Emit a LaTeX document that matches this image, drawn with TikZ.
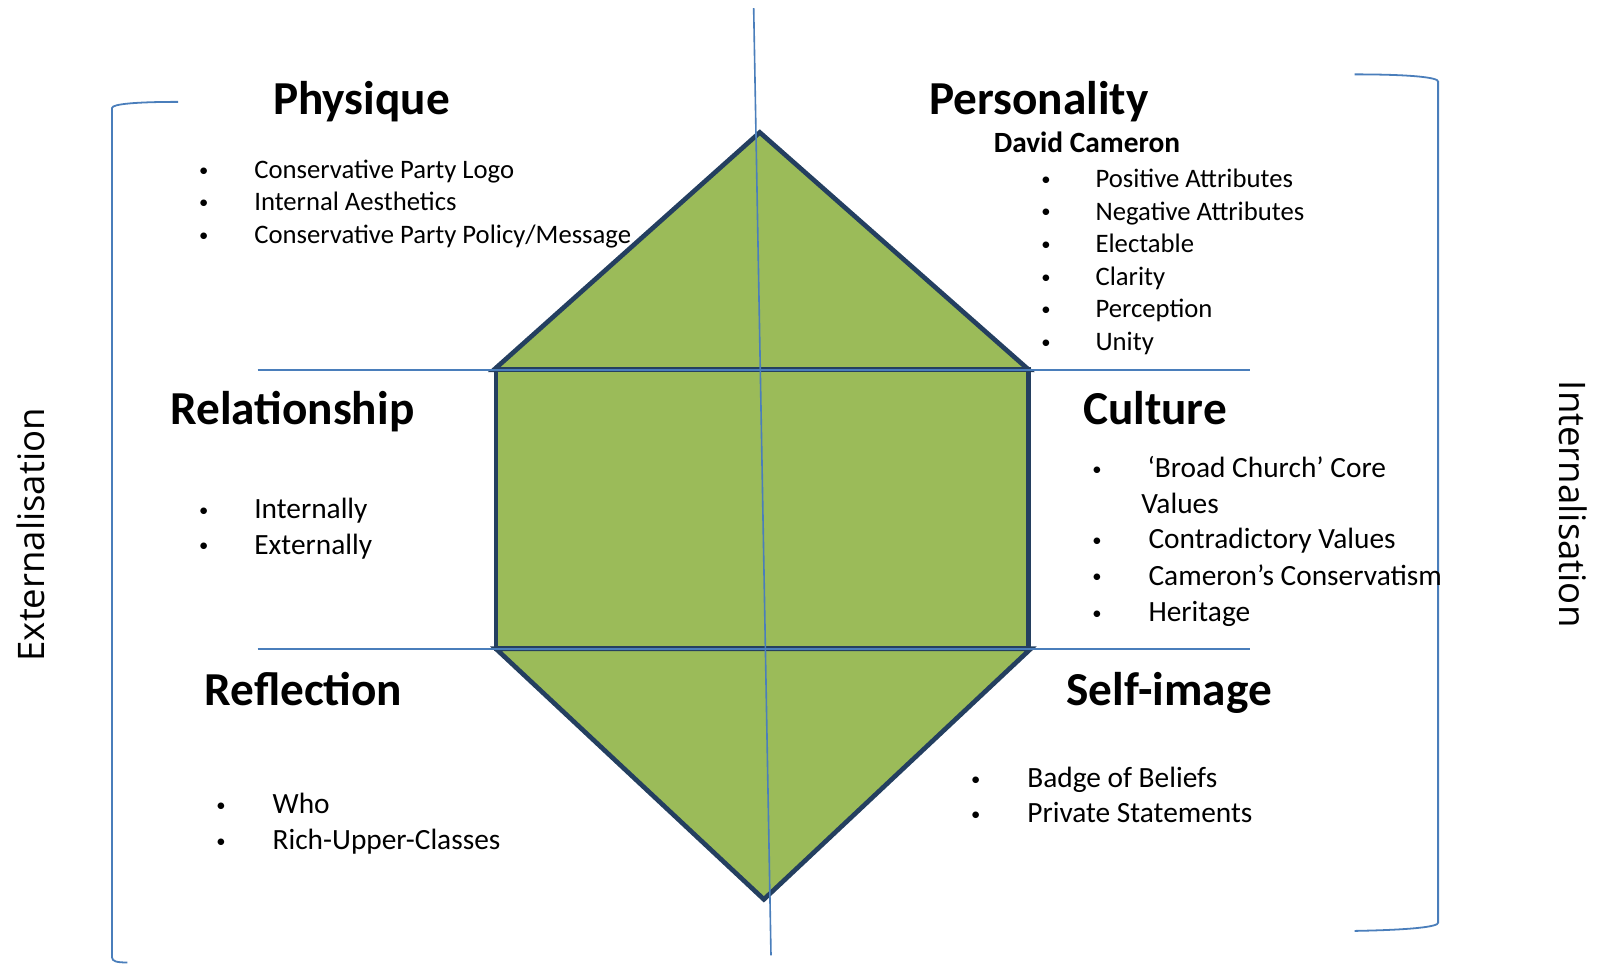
\documentclass[tikz,border=0pt]{standalone}
\usepackage{fontspec}
\setmainfont{Carlito}
\newfontfamily\sidefont{Open Sans}
\usetikzlibrary{positioning}
\definecolor{prismgreen}{HTML}{9BBB59}
\definecolor{prismedge}{HTML}{243F60}
\definecolor{axisblue}{HTML}{4A7EBB}

\begin{document}
\begin{tikzpicture}
[x=0.01cm,y=-0.01cm,
 facet/.style={fill=prismgreen,draw=prismedge,line width=1.3pt,line join=miter},
 axis/.style={draw=axisblue,line width=0.45pt},
 brace/.style={draw=axisblue,line width=0.5pt},
 heading/.style={font=\fontsize{13.2}{15}\selectfont\bfseries,anchor=base,inner sep=0pt},
 subhead/.style={font=\fontsize{8.2}{10}\selectfont\bfseries,anchor=base west,inner sep=0pt},
 item/.style={font=\fontsize{7.45}{9}\selectfont,anchor=base west,inner sep=0pt},
 wideitem/.style={item,font=\fontsize{8.2}{10}\selectfont},
 dot/.style={font=\fontsize{5.2}{6}\selectfont,anchor=base,inner sep=0pt,yshift=0.6pt},
 side/.style={font=\sidefont\fontsize{10.2}{12}\selectfont,inner sep=0pt}]

\useasboundingbox (0,0) rectangle (1568,947);

% prism
\coordinate (apex) at (746,130);
\coordinate (tl) at (485,363);
\coordinate (tr) at (1010,363);
\coordinate (ml) at (487,363);
\coordinate (bl) at (487,637);
\coordinate (br) at (1012,637);
\coordinate (foot) at (750,883);

\draw [facet] (apex) -- (tr) -- (tl) -- cycle;
\draw [facet] (ml) rectangle (1010,637);
\draw [facet] (bl) -- (br) -- (foot) -- cycle;

% axes
\coordinate (n) at (740,8);
\coordinate (s) at (757,938);
\draw [axis] (n) -- (s);
\draw [axis] (253,363) coordinate (w1) -- (1227,363) coordinate (e1);
\draw [axis] (253,637) coordinate (w2) -- (1227,637) coordinate (e2);

% brackets
\draw [brace] (175,100) .. controls (135,100) and (110,102) .. (110,106)
	-- (110,940) .. controls (110,944) and (115,945) .. (125,945);
\draw [brace] (1330,73) .. controls (1385,73) and (1412,76) .. (1412,80)
	-- (1412,906) .. controls (1412,910) and (1385,913) .. (1330,914);

\node (ext) [side,rotate=90] at (30,525) {Externalisation};
\node (int) [side,rotate=-90] at (1545,495) {Internalisation};

% physique
\node (physique) [heading] at (355,112) {Physique};
\foreach \t [count=\i] in {Conservative Party Logo,Internal Aesthetics,Conservative Party Policy/Message}
{
	\node (phy-dot\i) [dot] at (200,{175+(\i-1)*32}) {\textbullet};
	\node (phy-\i) [item] at (249,{175+(\i-1)*32}) {\t};
}

% personality
\node (personality) [heading] at (1020,112) {Personality};
\node (cameron) [subhead] at (975,150) {David Cameron};
\foreach \t [count=\i] in {Positive Attributes,Negative Attributes,Electable,Clarity,Perception,Unity}
{
	\node (per-dot\i) [dot] at (1027,{184+(\i-1)*32}) {\textbullet};
	\node (per-\i) [item] at (1075,{184+(\i-1)*32}) {\t};
}

% relationship
\node (relationship) [heading] at (287,417) {Relationship};
\foreach \t [count=\i] in {Internally,Externally}
{
	\node (rel-dot\i) [dot] at (200,{509+(\i-1)*35}) {\textbullet};
	\node (rel-\i) [wideitem] at (249,{509+(\i-1)*35}) {\t};
}

% culture
\node (culture) [heading] at (1134,417) {Culture};
\node (cul-dot1) [dot] at (1077,469) {\textbullet};
\node (cul-1) [wideitem] at (1126,469) {‘Broad Church’ Core};
\node (cul-1b) [wideitem] at (1120,504) {Values};
\foreach \t [count=\i from 2] in {Contradictory Values,Cameron’s Conservatism,Heritage}
{
	\node (cul-dot\i) [dot] at (1077,{539+(\i-2)*35.5}) {\textbullet};
	\node (cul-\i) [wideitem] at (1127,{539+(\i-2)*35.5}) {\t};
}

% reflection
\node (reflection) [heading] at (298,693) {Reflection};
\foreach \t [count=\i] in {Who,Rich-Upper-Classes}
{
	\node (ref-dot\i) [dot] at (217,{799+(\i-1)*35}) {\textbullet};
	\node (ref-\i) [wideitem] at (267,{799+(\i-1)*35}) {\t};
}

% self-image
\node (selfimage) [heading] at (1148,693) {Self-image};
\foreach \t [count=\i] in {Badge of Beliefs,Private Statements}
{
	\node (self-dot\i) [dot] at (958,{773+(\i-1)*35}) {\textbullet};
	\node (self-\i) [wideitem] at (1008,{773+(\i-1)*35}) {\t};
}

\end{tikzpicture}
\end{document}
